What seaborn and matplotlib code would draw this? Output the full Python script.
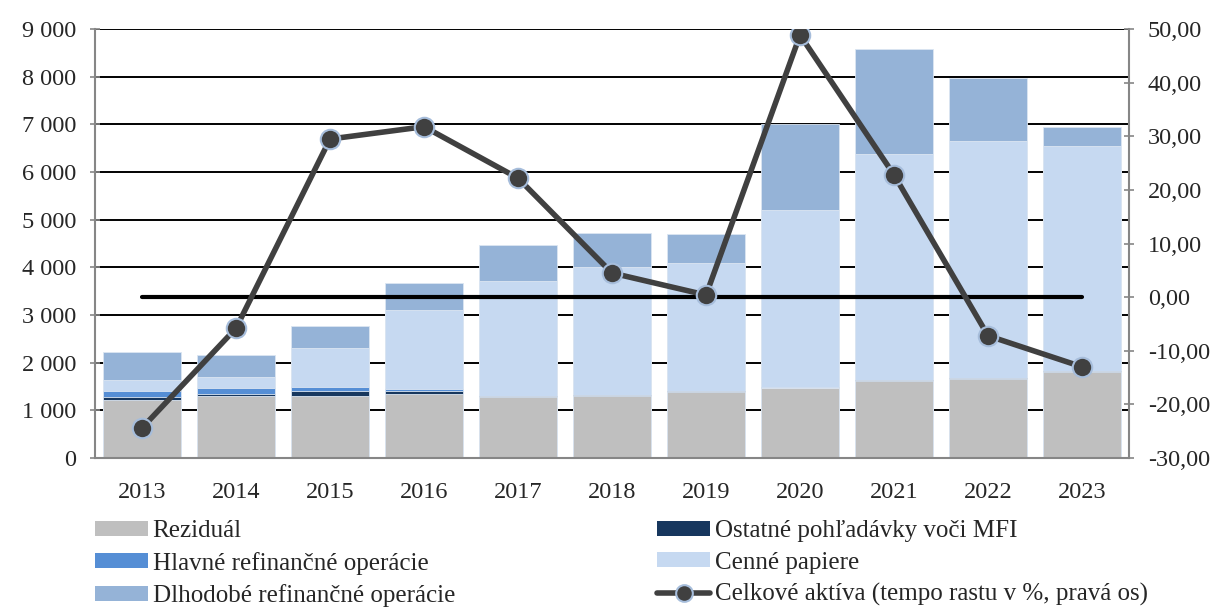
import matplotlib
matplotlib.use("Agg")
import matplotlib.pyplot as plt
import seaborn as sns
import numpy as np
from matplotlib.patches import Patch
from matplotlib.lines import Line2D
from matplotlib.ticker import FuncFormatter, FixedLocator

# Data
roky = ["2013", "2014", "2015", "2016", "2017", "2018", "2019", "2020", "2021", "2022", "2023"]
rezidual = [1217, 1300, 1307, 1343, 1286, 1310, 1391, 1462, 1622, 1664, 1797]
ostatne_mfi = [55, 50, 105, 70, 15, 10, 10, 10, 15, 15, 20]
hlavne_ro = [130, 125, 84, 35, 10, 12, 15, 8, 3, 2, 2]
cenne_papiere = [245, 230, 818, 1657, 2402, 2668, 2668, 3722, 4737, 4969, 4726]
dlhodobe_ro = [580, 460, 461, 560, 755, 713, 608, 1798, 2203, 1315, 398]
rast_aktiv = [-24.4, -5.8, 29.5, 31.8, 22.2, 4.5, 0.4, 48.9, 22.8, -7.2, -13.0]
nulova_ciara = [0.0] * len(roky)

vrstvy = [
    ("Reziduál", rezidual, "#BFBFBF"),
    ("Ostatné pohľadávky voči MFI", ostatne_mfi, "#17375E"),
    ("Hlavné refinančné operácie", hlavne_ro, "#558ED5"),
    ("Cenné papiere", cenne_papiere, "#C6D9F1"),
    ("Dlhodobé refinančné operácie", dlhodobe_ro, "#95B3D7"),
]
nazov_ciary = "Celkové aktíva (tempo rastu v %, pravá os)"

sns.set_theme(style="white")
plt.rcParams['font.family'] = ['Liberation Serif', 'DejaVu Serif']
fs = 17.5
fs_leg = 18

fig, ax = plt.subplots(figsize=(12.18, 6.07), dpi=100)
fig.subplots_adjust(left=0.078, right=0.927, top=0.952, bottom=0.2455)

# stacked bars: draw cumulative totals from the top layer down
kumul = np.cumsum([v for _, v, _ in vrstvy], axis=0)
for i in reversed(range(len(vrstvy))):
    sns.barplot(x=roky, y=kumul[i], color=vrstvy[i][2], saturation=1,
                width=0.83, errorbar=None, ax=ax,
                edgecolor="#DCE6F2", linewidth=0.6)

ax.set_ylim(0, 9000)
ax.set_xlim(-0.5, len(roky) - 0.5)
ax.set_yticks(np.arange(0, 9001, 1000))
ax.yaxis.set_major_formatter(FuncFormatter(lambda v, p: f"{int(v):,}".replace(",", " ")))
ax.yaxis.grid(True, color="black", linewidth=1.4)
ax.set_axisbelow(True)
ax.set_xlabel("")
ax.set_ylabel("")

# x ticks: labels at centers, marks at category boundaries
ax.xaxis.set_minor_locator(FixedLocator(np.arange(-0.5, len(roky), 1.0)))
ax.tick_params(axis="x", which="major", length=0, pad=17, labelsize=fs)
ax.tick_params(axis="x", which="minor", length=7, width=1.2, color="#868686", direction="out")
ax.tick_params(axis="y", length=7, width=1.2, color="#868686", direction="inout", pad=10, labelsize=fs, left=True)

for s in ["left", "right", "bottom"]:
    ax.spines[s].set_color("#868686")
    ax.spines[s].set_linewidth(1.5)
ax.spines["top"].set_visible(False)

# right axis: growth line
ax2 = ax.twinx()
x_pos = np.arange(len(roky))
sns.lineplot(x=x_pos, y=nulova_ciara, color="black", linewidth=3, ax=ax2)
sns.lineplot(x=x_pos, y=rast_aktiv, color="#404040", linewidth=4, marker="o",
             markersize=14, markerfacecolor="#404040", markeredgecolor="#A6BDDB",
             markeredgewidth=1.5, ax=ax2)
ax2.set_ylim(-30, 50)
ax2.set_yticks(np.arange(-30, 51, 10))
ax2.yaxis.set_major_formatter(FuncFormatter(lambda v, p: f"{v:.2f}".replace(".", ",")))
ax2.tick_params(axis="y", length=7, width=1.2, color="#868686", direction="inout", pad=10, labelsize=fs, right=True)
ax2.set_ylabel("")
ax2.grid(False)
for s in ["left", "right", "bottom", "top"]:
    ax2.spines[s].set_visible(False)

# legend (filled column-wise with 2 columns)
h = {n: Patch(facecolor=c, edgecolor="none") for n, _, c in vrstvy}
h[nazov_ciary] = Line2D([], [], color="#404040", linewidth=4, marker="o", markersize=12,
                        markerfacecolor="#404040", markeredgecolor="#A6BDDB", markeredgewidth=1.5)
poradie = ["Reziduál", "Hlavné refinančné operácie", "Dlhodobé refinančné operácie",
           "Ostatné pohľadávky voči MFI", "Cenné papiere", nazov_ciary]
fig.legend([h[n] for n in poradie], poradie, ncol=2, loc="upper left",
           bbox_to_anchor=(0.078, 0.143), frameon=False, fontsize=fs_leg,
           handlelength=2.1, handleheight=0.55, handletextpad=0.2,
           columnspacing=8.1, labelspacing=0.38, borderpad=0, borderaxespad=0)

fig.savefig("out.png", dpi=100)
